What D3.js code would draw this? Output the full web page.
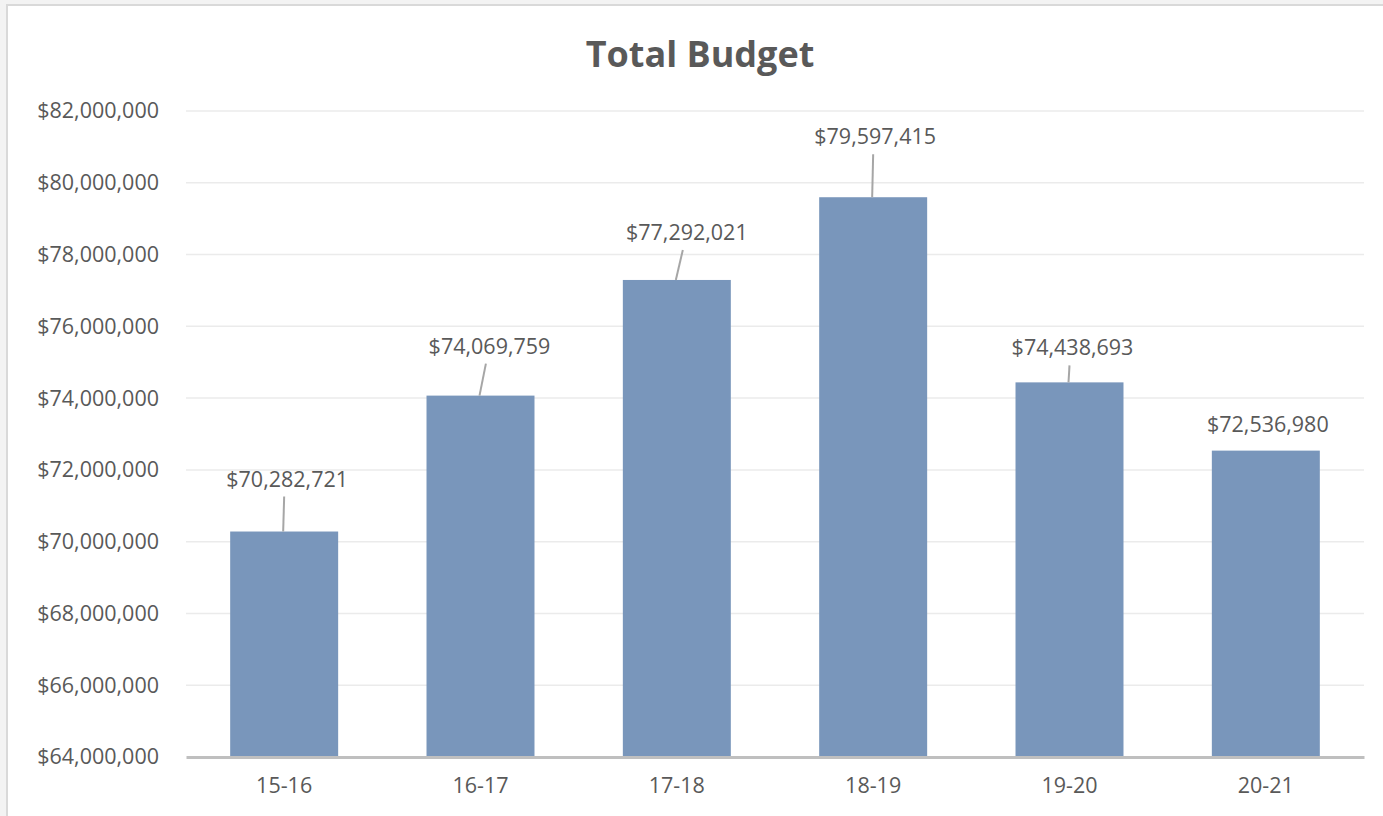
<!DOCTYPE html>
<html>
<head>
<meta charset="utf-8">
<script src="https://cdn.jsdelivr.net/npm/d3@7"></script>
<style>
  html, body { margin: 0; padding: 0; background: #fff; }
  svg { display: block; }
</style>
</head>
<body>
<svg id="chart" width="1383" height="816"></svg>
<script>
const categories = ["15-16", "16-17", "17-18", "18-19", "19-20", "20-21"];
const budget = [70282721, 74069759, 77292021, 79597415, 74438693, 72536980];
const yTicks = [64000000, 66000000, 68000000, 70000000, 72000000, 74000000, 76000000, 78000000, 80000000, 82000000];
const title = "Total Budget";

// label nudges (layout only): [dx, baseline distance above bar top]
const labelNudge = [[3, 45], [9, 42], [10, 40], [2, 53], [3, 27], [2, 19]];

const W = 1383, H = 816;
const margin = { left: 186, right: 19, top: 111, bottom: 59 };
const svg = d3.select("#chart");
const font = "'Open Sans', 'Noto Sans', sans-serif";
const textColor = "#595959";
const fs = 21.5;

// frame
svg.append("rect").attr("x", 0).attr("y", 0).attr("width", W).attr("height", H).attr("fill", "#f3f3f3");
svg.append("rect").attr("x", 7).attr("y", 5).attr("width", W).attr("height", H).attr("fill", "#fff")
  .attr("stroke", "#d9d9d9").attr("stroke-width", 2);

const x = d3.scaleBand().domain(categories).range([margin.left, W - margin.right]).paddingInner(0.45).paddingOuter(0.225);
const y = d3.scaleLinear().domain([64000000, 82000000]).range([H - margin.bottom, margin.top]);

// gridlines
svg.append("g").selectAll("line").data(yTicks.slice(1)).join("line")
  .attr("x1", margin.left).attr("x2", W - margin.right)
  .attr("y1", d => y(d)).attr("y2", d => y(d))
  .attr("stroke", "#ebebeb").attr("stroke-width", 1.5);

// y axis labels
const fmt = d3.format("$,");
const yAxis = d3.axisLeft(y).tickValues(yTicks).tickFormat(d => fmt(d)).tickSize(0).tickPadding(27);
const yg = svg.append("g").attr("transform", `translate(${margin.left},0)`).call(yAxis);
yg.select(".domain").remove();
yg.selectAll("text").attr("font-family", font).attr("font-size", fs).attr("fill", textColor);

// bars
svg.append("g").selectAll("rect").data(budget).join("rect")
  .attr("x", (d, i) => x(categories[i]))
  .attr("width", x.bandwidth())
  .attr("y", d => y(d))
  .attr("height", d => y(64000000) - y(d))
  .attr("fill", "#7996bb");

// x axis
const xAxis = d3.axisBottom(x).tickSize(0).tickPadding(21);
const xg = svg.append("g").attr("transform", `translate(0,${y(64000000)})`).call(xAxis);
xg.select(".domain").attr("stroke", "#bfbfbf").attr("stroke-width", 3);
xg.selectAll("text").attr("font-family", font).attr("font-size", fs).attr("fill", textColor);

// data labels with leader lines
const lab = svg.append("g");
budget.forEach((d, i) => {
  const cx = x(categories[i]) + x.bandwidth() / 2;
  const top = y(d);
  const [dx, dy] = labelNudge[i];
  const ly = top - dy;
  lab.append("text").attr("x", cx + dx).attr("y", ly)
    .attr("text-anchor", "middle").attr("font-family", font).attr("font-size", fs)
    .attr("fill", textColor).text(fmt(d));
  if (dy > 22) {
    lab.append("line").attr("x1", cx + (dx > 5 ? dx * 0.6 : 0)).attr("y1", ly + 10)
      .attr("x2", cx - 1).attr("y2", top)
      .attr("stroke", "#a6a6a6").attr("stroke-width", 2);
  }
});

// title
svg.append("text").attr("x", 700).attr("y", 67).attr("text-anchor", "middle")
  .attr("font-family", font).attr("font-size", 36).attr("font-weight", "bold")
  .attr("fill", textColor).text(title);
</script>
</body>
</html>
